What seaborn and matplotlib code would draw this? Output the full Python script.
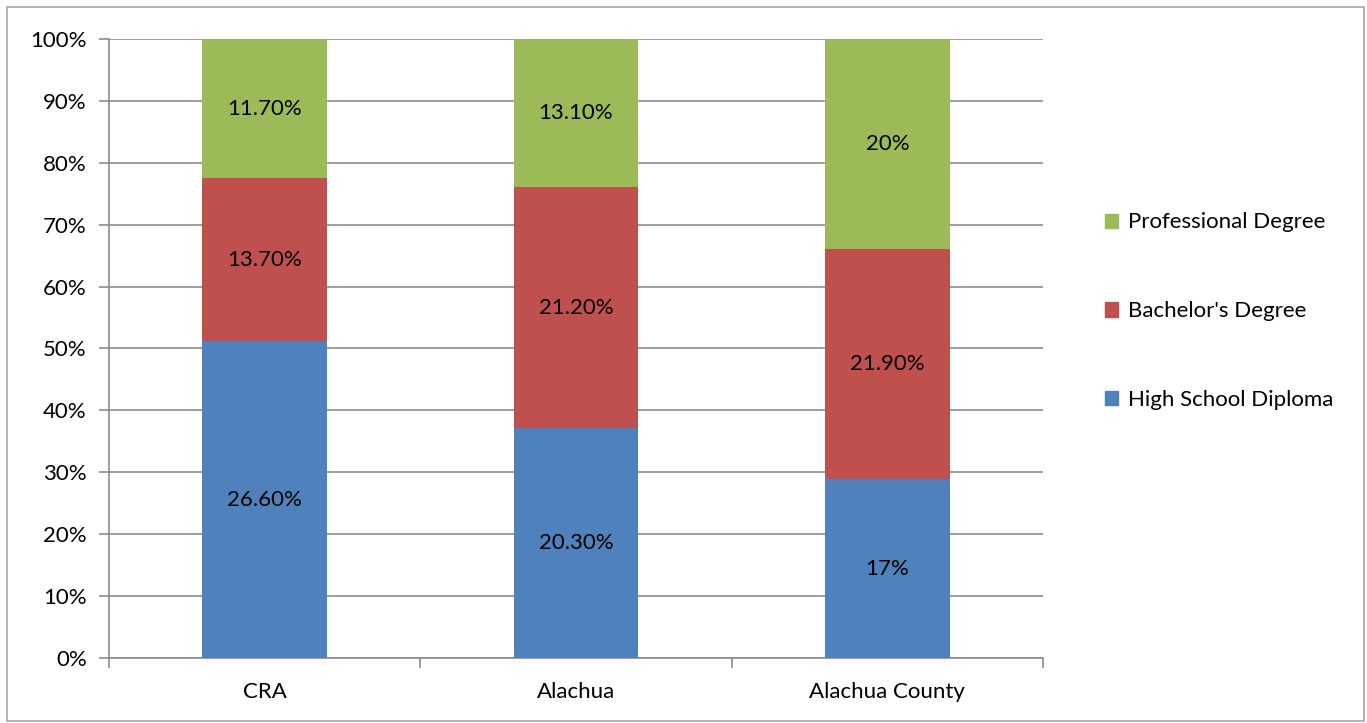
import numpy as np
import pandas as pd
import matplotlib
matplotlib.use("Agg")
import matplotlib.pyplot as plt
import seaborn as sns
from matplotlib.patches import Rectangle

areas = ["CRA", "Alachua", "Alachua County"]
high_school = [26.6, 20.3, 17.0]
bachelor = [13.7, 21.2, 21.9]
professional = [11.7, 13.1, 20.0]
hs_labels = ["26.60%", "20.30%", "17%"]
ba_labels = ["13.70%", "21.20%", "21.90%"]
pr_labels = ["11.70%", "13.10%", "20%"]

colors = {"High School Diploma": "#4F81BD",
          "Bachelor's Degree": "#C0504D",
          "Professional Degree": "#9BBB59"}

sns.set_style("white")
plt.rcParams['font.family'] = ['Lato', 'DejaVu Sans']
plt.rcParams['text.color'] = 'black'
plt.rcParams['xtick.color'] = 'black'
plt.rcParams['ytick.color'] = 'black'

df = pd.DataFrame({"area": areas, "hs": high_school, "ba": bachelor, "pr": professional})
total = df["hs"] + df["ba"] + df["pr"]
df["hs_pct"] = df["hs"] / total * 100
df["ba_pct"] = df["ba"] / total * 100
df["pr_pct"] = df["pr"] / total * 100
df["cum_ba"] = df["hs_pct"] + df["ba_pct"]
df["cum_pr"] = df["cum_ba"] + df["pr_pct"]

fig = plt.figure(figsize=(13.67, 7.23), dpi=100)
ax = fig.add_axes([0.0797, 0.0899, 0.6833, 0.8562])

# layered: draw cumulative totals back to front
sns.barplot(data=df, x="area", y="cum_pr", color=colors["Professional Degree"],
            saturation=1, width=0.4, ax=ax, linewidth=0, zorder=3)
sns.barplot(data=df, x="area", y="cum_ba", color=colors["Bachelor's Degree"],
            saturation=1, width=0.4, ax=ax, linewidth=0, zorder=3)
sns.barplot(data=df, x="area", y="hs_pct", color=colors["High School Diploma"],
            saturation=1, width=0.4, ax=ax, linewidth=0, zorder=3)

fs = 16
for i in range(len(areas)):
    ax.text(i, df["hs_pct"][i] / 2, hs_labels[i], ha="center", va="center", fontsize=fs, zorder=5)
    ax.text(i, df["hs_pct"][i] + df["ba_pct"][i] / 2, ba_labels[i], ha="center", va="center", fontsize=fs, zorder=5)
    ax.text(i, df["cum_ba"][i] + df["pr_pct"][i] / 2, pr_labels[i], ha="center", va="center", fontsize=fs, zorder=5)

ax.set_xlim(-0.5, 2.5)
ax.set_ylim(0, 100)
yt = np.arange(0, 101, 10)
ax.set_yticks(yt)
ax.set_yticklabels([f"{v}%" for v in yt], fontsize=fs)
ax.set_xticks(range(3))
ax.set_xticklabels(areas, fontsize=fs)
ax.set_xlabel("")
ax.set_ylabel("")
ax.yaxis.grid(True, color="#8C8C8C", linewidth=1.2, zorder=0)
ax.set_axisbelow(True)
for s in ["top", "right"]:
    ax.spines[s].set_visible(False)
for s in ["left", "bottom"]:
    ax.spines[s].set_color("#8C8C8C")
    ax.spines[s].set_linewidth(1.2)
ax.tick_params(axis="y", length=7, color="#8C8C8C", width=1.2, pad=9, left=True)
ax.tick_params(axis="x", length=0, pad=17)
# category separators on x axis
ax.set_xticks([-0.5, 0.5, 1.5, 2.5], minor=True)
ax.tick_params(axis="x", which="minor", length=7, color="#8C8C8C", width=1.2, bottom=True)

order = ["Professional Degree", "Bachelor's Degree", "High School Diploma"]
leg = ax.legend([Rectangle((0, 0), 1, 1, color=colors[k]) for k in order], order,
                loc="center left", bbox_to_anchor=(1.066, 0.56), frameon=False,
                borderaxespad=0, borderpad=0,
                fontsize=fs, handlelength=0.6, handleheight=0.6, handletextpad=0.45,
                labelspacing=3.1)

fig.patches.append(Rectangle((0.005, 0.003), 0.993, 0.988, transform=fig.transFigure,
                             fill=False, edgecolor="#A6A6A6", linewidth=1.2))

fig.savefig("out.png", dpi=100)
